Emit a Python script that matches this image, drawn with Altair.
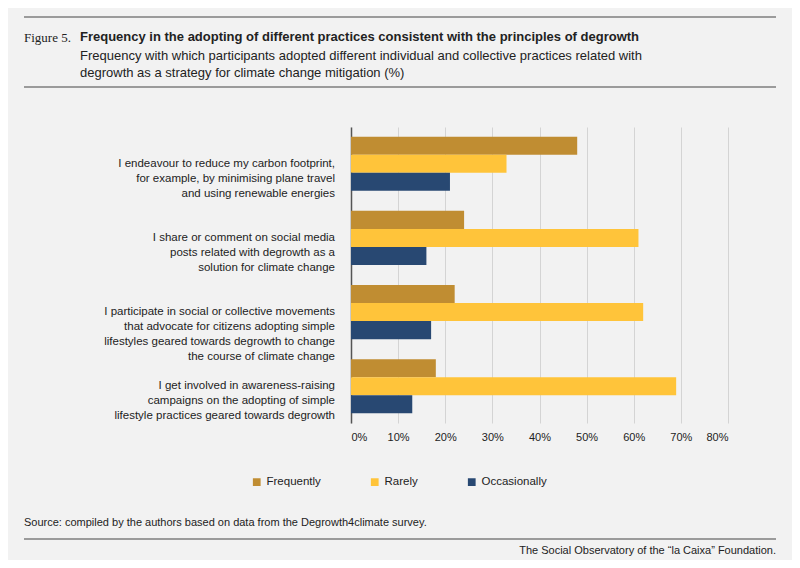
import altair as alt
import pandas as pd

practices = [
    "I endeavour to reduce my carbon footprint,\nfor example, by minimising plane travel\nand using renewable energies",
    "I share or comment on social media\nposts related with degrowth as a\nsolution for climate change",
    "I participate in social or collective movements\nthat advocate for citizens adopting simple\nlifestyles geared towards degrowth to change\nthe course of climate change",
    "I get involved in awareness-raising\ncampaigns on the adopting of simple\nlifestyle practices geared towards degrowth",
]
frequency = ["Frequently", "Rarely", "Occasionally"]
frequently = [48, 24, 22, 18]
rarely = [33, 61, 62, 69]
occasionally = [21, 16, 17, 13]
colors = ["#c08d32", "#ffc43a", "#284872"]

rows = []
for i, p in enumerate(practices):
    for f, vals in zip(frequency, [frequently, rarely, occasionally]):
        rows.append({"key": str(i), "Frequency": f, "Value": vals[i]})
df = pd.DataFrame(rows)
labels = pd.DataFrame({"key": [str(i) for i in range(len(practices))], "label": practices})

FONT = "Liberation Sans"
W, H = 377, 296
ysc = alt.Scale(domain=[str(i) for i in range(4)], paddingInner=0.27, paddingOuter=0.13)

bars = alt.Chart(df).mark_bar().encode(
    x=alt.X("Value:Q", scale=alt.Scale(domain=[0, 80]),
            axis=alt.Axis(format=".0f", labelExpr="datum.value + '%'", values=list(range(0, 81, 10)),
                          title=None, grid=True, gridColor="#d4d4d4", domain=False, ticks=False,
                          labelFont=FONT, labelFontSize=11, labelColor="#222", labelPadding=8)),
    y=alt.Y("key:N", scale=ysc, axis=alt.Axis(labels=False, ticks=False, title=None,
                                                domainColor="#555", domainWidth=1.5)),
    yOffset=alt.YOffset("Frequency:N", sort=frequency),
    color=alt.Color("Frequency:N", sort=frequency,
                    scale=alt.Scale(domain=frequency, range=colors),
                    legend=alt.Legend(title=None, orient="none", direction="horizontal",
                                      legendX=-100, legendY=349, symbolType="square",
                                      symbolSize=60, columnPadding=48, labelFont=FONT,
                                      labelFontSize=11.5, labelColor="#222", symbolStrokeWidth=0)),
)

cat_text = alt.Chart(labels).mark_text(align="right", baseline="middle", lineBreak="\n",
                                       font=FONT, fontSize=11.5, color="#222", lineHeight=15).encode(
    y=alt.Y("key:N", scale=ysc), x=alt.value(-16), text="label:N")

def txt(s, x, y, size=13, weight="normal", align="left", font=FONT, color="#222"):
    return alt.Chart(pd.DataFrame({"t": [s]})).mark_text(
        align=align, baseline="middle", fontSize=size, fontWeight=weight, font=font, color=color
    ).encode(x=alt.value(x - 351), y=alt.value(y - 127), text="t:N")

def hline(y, w=1.2):
    return alt.Chart(pd.DataFrame({"a": [0]})).mark_rule(color="#444", strokeWidth=w).encode(
        x=alt.value(24 - 351), x2=alt.value(776 - 351), y=alt.value(y - 127))

chart = alt.layer(
    bars, cat_text,
    hline(17), hline(87), hline(539),
    txt("Figure 5.", 24, 38, 13, font="Liberation Serif"),
    txt("Frequency in the adopting of different practices consistent with the principles of degrowth", 80, 37, 13, "bold"),
    txt("Frequency with which participants adopted different individual and collective practices related with", 80, 56, 13),
    txt("degrowth as a strategy for climate change mitigation (%)", 80, 73, 13),
    txt("Source: compiled by the authors based on data from the Degrowth4climate survey.", 24, 523, 11),
    txt("The Social Observatory of the \u201cla Caixa\u201d Foundation.", 776, 551, 11, align="right"),
).properties(
    width=W, height=H, background="#f2f2f2",
    padding={"left": 343, "top": 119, "right": 64, "bottom": 137},
    autosize=alt.AutoSizeParams(type="none"),
).configure_view(stroke=None)

chart.save("out.html", embed_options={"renderer": "svg", "actions": False})
